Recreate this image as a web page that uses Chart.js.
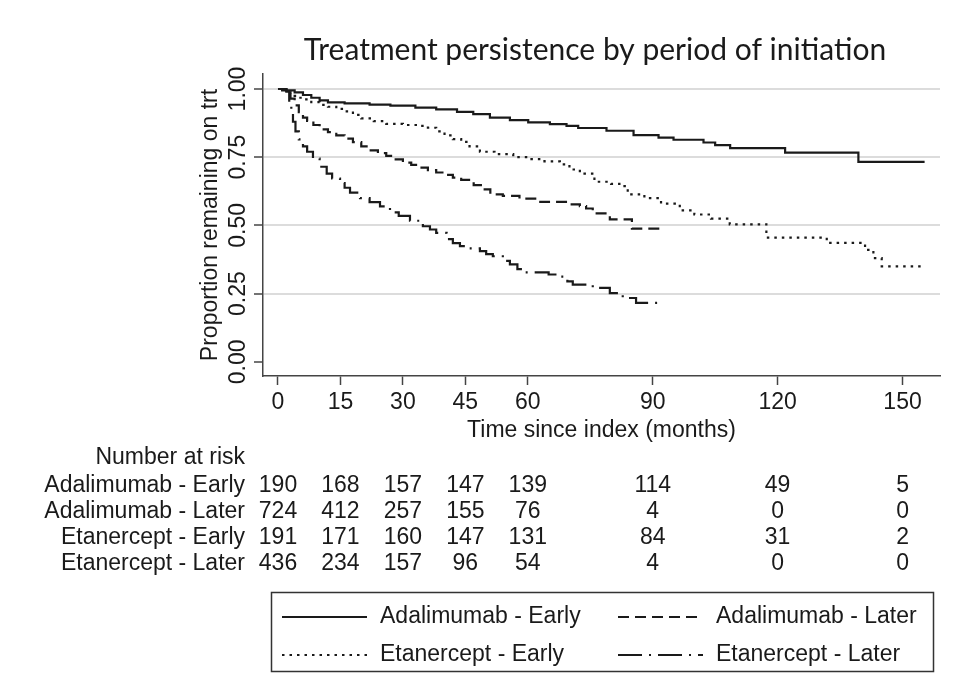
<!DOCTYPE html>
<html>
<head>
<meta charset="utf-8">
<title>Treatment persistence by period of initiation</title>
<script src="https://cdn.jsdelivr.net/npm/chart.js@4.4.0/dist/chart.umd.min.js"></script>
<style>
    html, body { margin: 0; padding: 0; background: #fff; }
    #wrap { width: 956px; height: 698px; position: relative; }
</style>
</head>
<body>
<div id="wrap"><canvas id="kmChart"></canvas></div>
<script>
// axis ticks (months / proportion)
const timeTicks = [0, 15, 30, 45, 60, 90, 120, 150];
const propTicks = [0, 0.25, 0.5, 0.75, 1];

const groupNames = ['Adalimumab - Early', 'Adalimumab - Later', 'Etanercept - Early', 'Etanercept - Later'];

// Kaplan-Meier steps (months, proportion on treatment)
const adaEarlyTime = [0, 2, 4, 6, 8, 10, 12, 16, 22, 27, 33, 38, 43, 46.9, 50.9, 55.7, 60.1, 65.3, 69.3, 72.1, 78.9, 85.4, 91.4, 95, 102.2, 105, 108.6, 121.8, 139.4, 155.3];
const adaEarlySurv = [1, 0.995, 0.988, 0.978, 0.968, 0.958, 0.951, 0.947, 0.943, 0.939, 0.932, 0.925, 0.916, 0.908, 0.895, 0.886, 0.878, 0.871, 0.865, 0.857, 0.847, 0.831, 0.822, 0.814, 0.804, 0.794, 0.783, 0.767, 0.733, 0.733];

const adaLaterTime = [0, 1, 2, 3, 4, 5, 6, 7, 8.5, 10, 12, 14, 16, 18, 20, 22, 24, 26, 28, 30, 32, 34, 36, 38, 40, 42, 44, 47, 49, 51, 54, 58, 63, 70, 72.5, 74, 75.6, 79.7, 85, 92];
const adaLaterSurv = [1, 0.995, 0.985, 0.965, 0.94, 0.915, 0.895, 0.883, 0.868, 0.852, 0.842, 0.83, 0.818, 0.805, 0.79, 0.775, 0.765, 0.755, 0.742, 0.73, 0.722, 0.712, 0.703, 0.694, 0.685, 0.675, 0.667, 0.648, 0.632, 0.614, 0.608, 0.598, 0.586, 0.577, 0.571, 0.562, 0.544, 0.522, 0.488, 0.488];

const etaEarlyTime = [0, 2, 3, 4, 5, 6, 8, 10, 12, 14, 16, 18, 20, 23, 26, 30, 34, 36, 38, 40, 42, 44, 46, 48.5, 52, 56.5, 60, 64, 67.7, 70, 72.5, 76, 80, 82, 84, 88, 92, 96.5, 100, 104, 108.5, 117.3, 131.8, 141, 143, 145, 155.3];
const etaEarlySurv = [1, 0.99, 0.982, 0.975, 0.968, 0.962, 0.952, 0.942, 0.935, 0.927, 0.918, 0.905, 0.892, 0.882, 0.872, 0.868, 0.865, 0.858, 0.845, 0.83, 0.816, 0.806, 0.79, 0.77, 0.761, 0.75, 0.743, 0.735, 0.724, 0.705, 0.69, 0.66, 0.652, 0.644, 0.614, 0.6, 0.58, 0.555, 0.54, 0.525, 0.504, 0.455, 0.436, 0.41, 0.38, 0.35, 0.35];

const etaLaterTime = [0, 1, 2, 2.7, 3.2, 3.6, 4.2, 5, 6, 7, 8.4, 10, 11.7, 13, 14.9, 16, 17.3, 19.7, 22, 24.5, 26.9, 29, 31.7, 34.8, 36.5, 38, 40.5, 42, 43.7, 46, 48.5, 50, 51.6, 54, 55.7, 57.5, 59, 65, 67.7, 69.5, 70.8, 75.6, 79.7, 82.8, 86, 92];
const etaLaterSurv = [1, 0.998, 0.99, 0.95, 0.91, 0.88, 0.845, 0.815, 0.79, 0.77, 0.745, 0.715, 0.69, 0.672, 0.655, 0.638, 0.62, 0.6, 0.585, 0.57, 0.548, 0.535, 0.517, 0.497, 0.485, 0.473, 0.45, 0.435, 0.424, 0.416, 0.406, 0.395, 0.387, 0.37, 0.357, 0.34, 0.328, 0.32, 0.312, 0.295, 0.283, 0.271, 0.252, 0.234, 0.216, 0.216];

// number at risk at each time tick
const adaEarlyRisk = [190, 168, 157, 147, 139, 114, 49, 5];
const adaLaterRisk = [724, 412, 257, 155, 76, 4, 0, 0];
const etaEarlyRisk = [191, 171, 160, 147, 131, 84, 31, 2];
const etaLaterRisk = [436, 234, 157, 96, 54, 4, 0, 0];

const INK = '#1a1a1a';
const FONT_FAMILY = '"Liberation Sans", Arial, Helvetica, sans-serif';
const FONT_SIZE = 23;

function toPoints(times, surv) {
    return times.map((t, i) => ({ x: t, y: surv[i] }));
}

function kmDataset(label, times, surv, dash) {
    return {
        label: label,
        data: toPoints(times, surv),
        borderColor: INK,
        borderWidth: 2.2,
        borderDash: dash,
        pointRadius: 0,
        stepped: 'before',
        fill: false
    };
}

// title, number-at-risk table and boxed legend drawn below the plot
const extrasPlugin = {
    id: 'kmExtras',
    afterDraw(chart) {
        const ctx = chart.ctx;
        const xScale = chart.scales.x;
        ctx.save();

        // title
        ctx.fillStyle = INK;
        ctx.font = '30px Lato, "Open Sans", sans-serif';
        ctx.textAlign = 'center';
        ctx.textBaseline = 'middle';
        ctx.fillText('Treatment persistence by period of initiation', 595, 50);

        // number at risk
        ctx.font = FONT_SIZE + 'px ' + FONT_FAMILY;
        ctx.textAlign = 'right';
        ctx.fillText('Number at risk', 245, 458);
        const rows = [adaEarlyRisk, adaLaterRisk, etaEarlyRisk, etaLaterRisk];
        rows.forEach((row, i) => {
            const y = 486 + i * 26;
            ctx.textAlign = 'right';
            ctx.fillText(groupNames[i], 245, y);
            ctx.textAlign = 'center';
            row.forEach((n, j) => {
                ctx.fillText(String(n), xScale.getPixelForValue(timeTicks[j]), y);
            });
        });

        // legend box
        ctx.strokeStyle = '#333';
        ctx.lineWidth = 1.5;
        ctx.strokeRect(271.5, 592.5, 662, 79);
        const colX = [282, 618];
        const rowY = [617, 655];
        chart.data.datasets.forEach((ds, i) => {
            const lx = colX[i % 2];
            const ly = rowY[Math.floor(i / 2)];
            ctx.beginPath();
            ctx.setLineDash(ds.borderDash);
            ctx.lineWidth = 2.2;
            ctx.strokeStyle = INK;
            ctx.moveTo(lx, ly);
            ctx.lineTo(lx + 85, ly);
            ctx.stroke();
            ctx.setLineDash([]);
            ctx.textAlign = 'left';
            ctx.fillText(ds.label, lx + 98, ly);
        });
        ctx.restore();
    }
};

document.addEventListener('DOMContentLoaded', function () {
    const ctx = document.getElementById('kmChart');

    new Chart(ctx, {
        type: 'line',
        data: {
            datasets: [
                kmDataset(groupNames[0], adaEarlyTime, adaEarlySurv, []),
                kmDataset(groupNames[1], adaLaterTime, adaLaterSurv, [11, 6]),
                kmDataset(groupNames[2], etaEarlyTime, etaEarlySurv, [2.5, 5]),
                kmDataset(groupNames[3], etaLaterTime, etaLaterSurv, [24, 7, 2, 7])
            ]
        },
        options: {
            responsive: true,
            maintainAspectRatio: false,
            animation: false,
            layout: {
                padding: { top: 74, left: 197, right: 16, bottom: 254 }
            },
            plugins: {
                legend: { display: false },
                title: { display: false },
                tooltip: { enabled: false }
            },
            scales: {
                x: {
                    type: 'linear',
                    min: -3.6,
                    max: 159,
                    afterBuildTicks: function (scale) {
                        scale.ticks = timeTicks.map(v => ({ value: v }));
                    },
                    afterFit: function (scale) {
                        scale.height = 68;
                        scale.paddingLeft = 0;
                        scale.paddingRight = 0;
                    },
                    border: { display: true, color: '#444', width: 1.5 },
                    grid: {
                        drawOnChartArea: false,
                        drawTicks: true,
                        tickLength: 9,
                        tickColor: '#444',
                        tickWidth: 1.5
                    },
                    ticks: {
                        color: INK,
                        font: { family: FONT_FAMILY, size: FONT_SIZE },
                        padding: 4,
                        maxRotation: 0,
                        autoSkip: false
                    },
                    title: {
                        display: true,
                        text: 'Time since index (months)',
                        color: INK,
                        font: { family: FONT_FAMILY, size: FONT_SIZE },
                        padding: 0
                    }
                },
                y: {
                    type: 'linear',
                    min: -0.052,
                    max: 1.055,
                    afterBuildTicks: function (scale) {
                        scale.ticks = propTicks.map(v => ({ value: v }));
                    },
                    afterFit: function (scale) {
                        scale.width = 66;
                        scale.paddingTop = 0;
                        scale.paddingBottom = 0;
                    },
                    border: { display: true, color: '#444', width: 1.5 },
                    grid: {
                        color: function (c) {
                            return c.tick && c.tick.value === 0 ? 'rgba(0,0,0,0)' : '#dcdcdc';
                        },
                        lineWidth: 2,
                        drawTicks: true,
                        tickLength: 9,
                        tickColor: '#444',
                        tickWidth: 1.5
                    },
                    ticks: {
                        color: INK,
                        font: { family: FONT_FAMILY, size: FONT_SIZE },
                        minRotation: 90,
                        maxRotation: 90,
                        crossAlign: 'center',
                        padding: -7,
                        callback: function (value) {
                            return Number(value).toFixed(2);
                        }
                    },
                    title: {
                        display: true,
                        text: 'Proportion remaining on trt',
                        color: INK,
                        font: { family: FONT_FAMILY, size: FONT_SIZE },
                        padding: 0
                    }
                }
            }
        },
        plugins: [extrasPlugin]
    });
});
</script>
</body>
</html>
